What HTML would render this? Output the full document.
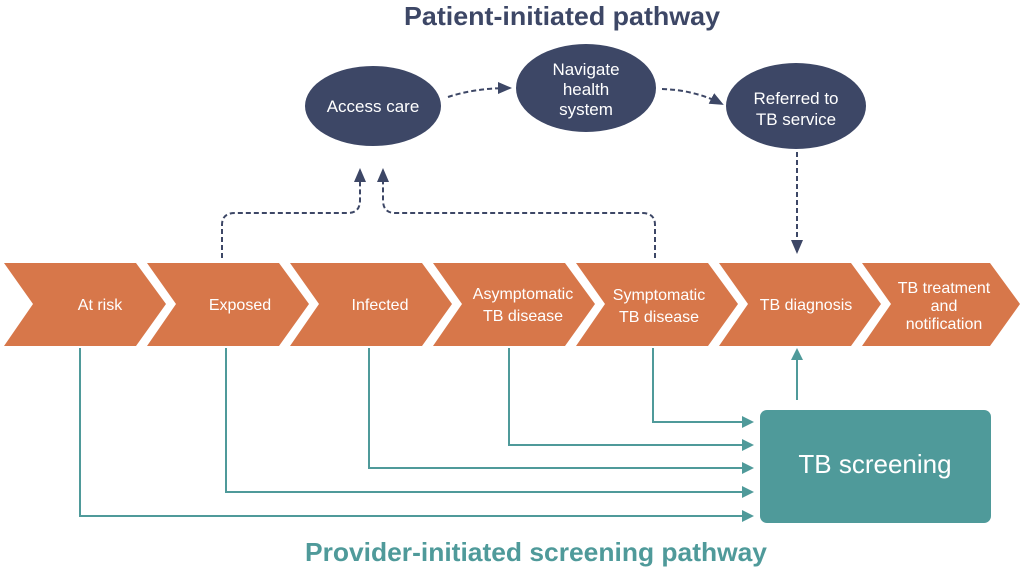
<!DOCTYPE html>
<html><head><style>
body{margin:0;background:#fff;}
svg text{font-family:"Liberation Sans",sans-serif;}
</style></head><body>
<svg width="1024" height="572" viewBox="0 0 1024 572" xmlns="http://www.w3.org/2000/svg">
<defs>
<marker id="ad" markerWidth="14" markerHeight="12" refX="12" refY="6" orient="auto" markerUnits="userSpaceOnUse"><path d="M0,0 L14,6 L0,12 z" fill="#3d4766"/></marker>
<marker id="at" markerWidth="12" markerHeight="12" refX="10" refY="6" orient="auto" markerUnits="userSpaceOnUse"><path d="M0,0 L12,6 L0,12 z" fill="#4f9a9a"/></marker>
</defs>
<text x="562" y="25" text-anchor="middle" font-size="26" font-weight="600" fill="#3d4766" textLength="316" lengthAdjust="spacingAndGlyphs">Patient-initiated pathway</text>
<text x="536" y="561" text-anchor="middle" font-size="26" font-weight="600" fill="#4f9a9a" textLength="462" lengthAdjust="spacingAndGlyphs">Provider-initiated screening pathway</text>

<g fill="#d7774a">
<path d="M4,263 L136,263 L166,304 L136,346 L4,346 L33,304 z"/>
<path d="M147,263 L279,263 L309,304 L279,346 L147,346 L176,304 z"/>
<path d="M290,263 L422,263 L452,304 L422,346 L290,346 L319,304 z"/>
<path d="M433,263 L565,263 L595,304 L565,346 L433,346 L462,304 z"/>
<path d="M576,263 L708,263 L738,304 L708,346 L576,346 L605,304 z"/>
<path d="M719,263 L851,263 L881,304 L851,346 L719,346 L748,304 z"/>
<path d="M862,263 L990,263 L1020,304 L990,346 L862,346 L891,304 z"/>
</g>
<g fill="#fff" font-size="16" text-anchor="middle">
<text x="100" y="310">At risk</text>
<text x="240" y="310">Exposed</text>
<text x="380" y="310">Infected</text>
<text x="523" y="299">Asymptomatic</text><text x="523" y="321">TB disease</text>
<text x="659" y="300">Symptomatic</text><text x="659" y="322">TB disease</text>
<text x="806" y="310">TB diagnosis</text>
<text x="944" y="293">TB treatment</text><text x="944" y="311">and</text><text x="944" y="329">notification</text>
</g>

<g fill="#3d4766">
<ellipse cx="373" cy="106" rx="68" ry="40"/>
<ellipse cx="586" cy="88" rx="70" ry="44"/>
<ellipse cx="796" cy="106" rx="70" ry="43"/>
</g>
<g fill="#fff" font-size="17" text-anchor="middle">
<text x="373" y="112">Access care</text>
<text x="586" y="75">Navigate</text><text x="586" y="95">health</text><text x="586" y="115">system</text>
<text x="796" y="104">Referred to</text><text x="796" y="125">TB service</text>
</g>

<g fill="none" stroke="#3d4766" stroke-width="2" stroke-dasharray="5,3">
<path d="M448,97 Q475,88 510,88" marker-end="url(#ad)"/>
<path d="M662,89 Q695,90 722,104" marker-end="url(#ad)"/>
<path d="M797,152 L797,252" marker-end="url(#ad)"/>
<path d="M222,258 L222,225 Q222,213 235,213 L348,213 Q360,213 360,200 L360,170" marker-end="url(#ad)"/>
<path d="M655,258 L655,225 Q655,213 642,213 L395,213 Q383,213 383,200 L383,170" marker-end="url(#ad)"/>
</g>

<rect x="760" y="410" width="231" height="113" rx="7" fill="#4f9a9a"/>
<text x="875" y="473" text-anchor="middle" font-size="26" fill="#fff">TB screening</text>

<g fill="none" stroke="#4f9a9a" stroke-width="2">
<path d="M80,348 L80,516 L752,516" marker-end="url(#at)"/>
<path d="M226,348 L226,492 L752,492" marker-end="url(#at)"/>
<path d="M369,348 L369,468 L752,468" marker-end="url(#at)"/>
<path d="M509,348 L509,445 L752,445" marker-end="url(#at)"/>
<path d="M653,348 L653,422 L752,422" marker-end="url(#at)"/>
<path d="M797,400 L797,350" marker-end="url(#at)"/>
</g>
</svg>
</body></html>
